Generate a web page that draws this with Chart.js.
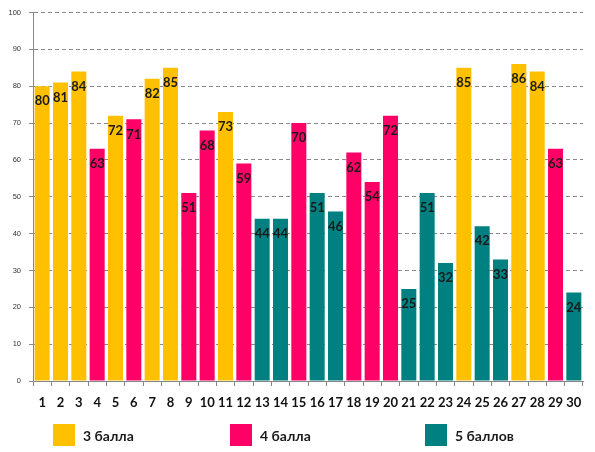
<!DOCTYPE html>
<html>
<head>
<meta charset="utf-8">
<script src="https://cdn.jsdelivr.net/npm/chart.js@4.4.1/dist/chart.umd.min.js"></script>
<style>
  html, body { margin: 0; padding: 0; background: #fff; }
  #wrap { width: 595px; height: 452px; }
</style>
</head>
<body>
<div id="wrap"><canvas id="myChart" width="595" height="452"></canvas></div>
<script>
const labels = ["1","2","3","4","5","6","7","8","9","10","11","12","13","14","15","16","17","18","19","20","21","22","23","24","25","26","27","28","29","30"];
const scores = [80, 81, 84, 63, 72, 71, 82, 85, 51, 68, 73, 59, 44, 44, 70, 51, 46, 62, 54, 72, 25, 51, 32, 85, 42, 33, 86, 84, 63, 24];
// 3 = "3 балла", 4 = "4 балла", 5 = "5 баллов"
const grades = [3, 3, 3, 4, 3, 4, 3, 3, 4, 4, 3, 4, 5, 5, 4, 5, 5, 4, 4, 4, 5, 5, 5, 3, 5, 5, 3, 3, 4, 5];
const groupNames = ["3 балла", "4 балла", "5 баллов"];
const groupColors = ["#FFC000", "#FF0066", "#008080"];
const yTicks = [0, 10, 20, 30, 40, 50, 60, 70, 80, 90, 100];

const FONT = "Lato, 'Liberation Sans', sans-serif";

const datasets = groupNames.map((name, i) => ({
  label: name,
  data: scores.map((v, j) => (grades[j] === i + 3 ? v : null)),
  backgroundColor: groupColors[i],
  borderWidth: 0,
  barPercentage: 0.82,
  categoryPercentage: 1,
  grouped: false,
  skipNull: true,
}));

// value labels just under the top of each bar
const valueLabels = {
  id: "valueLabels",
  afterDatasetsDraw(chart) {
    const ctx = chart.ctx;
    ctx.save();
    ctx.font = "bold 13px " + FONT;
    ctx.fillStyle = "#1a1a1a";
    ctx.textAlign = "center";
    ctx.textBaseline = "middle";
    chart.data.datasets.forEach((ds, i) => {
      chart.getDatasetMeta(i).data.forEach((bar, j) => {
        if (ds.data[j] == null) return;
        ctx.fillText(ds.data[j], bar.x, bar.y + 15);
      });
    });
    ctx.restore();
  },
};

// legend spread along the bottom like the original sheet
const bottomLegend = {
  id: "bottomLegend",
  afterDraw(chart) {
    const ctx = chart.ctx;
    const starts = [53, 230, 425];
    const top = 424;
    ctx.save();
    ctx.font = "bold 14px " + FONT;
    ctx.textBaseline = "middle";
    ctx.textAlign = "left";
    chart.data.datasets.forEach((ds, i) => {
      ctx.fillStyle = ds.backgroundColor;
      ctx.fillRect(starts[i], top, 22, 22);
      ctx.fillStyle = "#1a1a1a";
      ctx.fillText(ds.label, starts[i] + 30, top + 12);
    });
    ctx.restore();
  },
};

const myChart = new Chart(document.getElementById("myChart"), {
  type: "bar",
  data: { labels: labels, datasets: datasets },
  options: {
    responsive: false,
    animation: false,
    layout: { padding: { left: 0, right: 12, top: 8, bottom: 31 } },
    plugins: {
      legend: { display: false },
      tooltip: { enabled: false },
    },
    scales: {
      x: {
        grid: { display: true, drawOnChartArea: false, offset: true, color: "#888", tickLength: 5 },
        border: { color: "#888" },
        ticks: {
          color: "#111",
          padding: 9,
          maxRotation: 0,
          autoSkip: false,
          font: { family: FONT, size: 13, weight: "bold" },
        },
        afterFit(scale) { scale.height = 40; },
      },
      y: {
        min: 0,
        max: 100,
        afterBuildTicks(scale) { scale.ticks = yTicks.map((v) => ({ value: v })); },
        grid: { color: "#888", tickLength: 4 },
        border: { color: "#888", dash: [4, 3] },
        ticks: {
          color: "#333",
          padding: 8,
          font: { family: "'Liberation Sans', sans-serif", size: 7.5 },
        },
        afterFit(scale) { scale.width = 33; },
      },
    },
  },
  plugins: [valueLabels, bottomLegend],
});
</script>
</body>
</html>
